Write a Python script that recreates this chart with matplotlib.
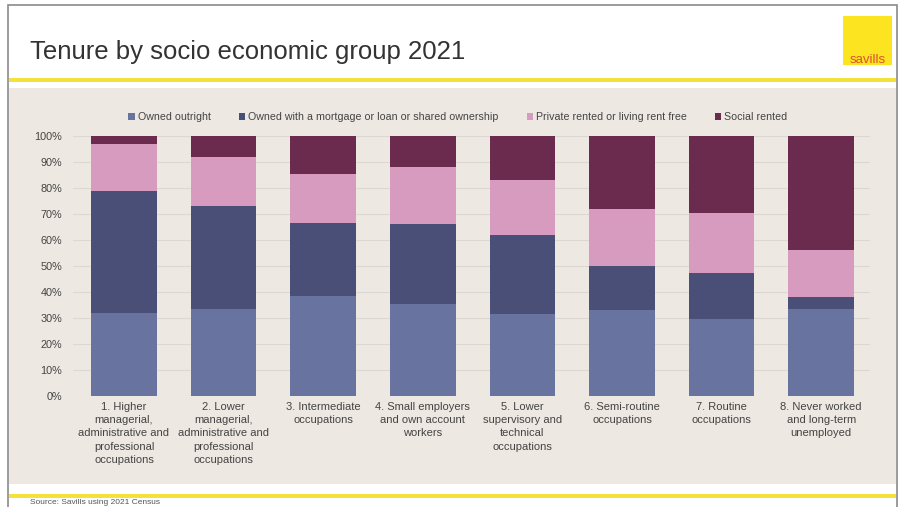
import numpy as np
import matplotlib.pyplot as plt
from matplotlib.patches import Rectangle

plt.rcParams['font.family'] = ['Liberation Sans', 'DejaVu Sans']

# Data (percent of each group)
groups = [
    "1. Higher\nmanagerial,\nadministrative and\nprofessional\noccupations",
    "2. Lower\nmanagerial,\nadministrative and\nprofessional\noccupations",
    "3. Intermediate\noccupations",
    "4. Small employers\nand own account\nworkers",
    "5. Lower\nsupervisory and\ntechnical\noccupations",
    "6. Semi-routine\noccupations",
    "7. Routine\noccupations",
    "8. Never worked\nand long-term\nunemployed",
]
owned_outright = [32, 33.5, 38.5, 35.5, 31.5, 33, 29.5, 33.5]
owned_mortgage = [47, 39.5, 28, 30.5, 30.5, 17, 18, 4.5]
private_rented = [18, 19, 19, 22, 21, 22, 23, 18]
social_rented = [3, 8, 14.5, 12, 17, 28, 29.5, 44]

series_names = ["Owned outright",
                "Owned with a mortgage or loan or shared ownership",
                "Private rented or living rent free",
                "Social rented"]
series_colors = ["#6973a0", "#4a4f78", "#d79bbf", "#6a2b4f"]

W, H = 904, 507
fig = plt.figure(figsize=(W / 100, H / 100), dpi=100)
fig.patch.set_facecolor("white")

def fx(px):
    return px / W

def fy(py):
    return 1 - py / H

# panel backgrounds
fig.patches.append(Rectangle((fx(9), fy(484)), fx(887), fy(88) - fy(484),
                             transform=fig.transFigure, facecolor="#ede8e2",
                             edgecolor="none", zorder=-3))
# yellow rules
fig.patches.append(Rectangle((fx(9), fy(82)), fx(887), 4 / H,
                             transform=fig.transFigure, facecolor="#f2e23a",
                             edgecolor="none", zorder=-2))
fig.patches.append(Rectangle((fx(9), fy(498)), fx(887), 4 / H,
                             transform=fig.transFigure, facecolor="#f2e23a",
                             edgecolor="none", zorder=-2))
# outer frame
fig.patches.append(Rectangle((fx(8), fy(510)), fx(889), fy(5) - fy(510),
                             transform=fig.transFigure, facecolor="none",
                             edgecolor="#8a8a8a", linewidth=1.2, zorder=-1))
# savills logo
fig.patches.append(Rectangle((fx(843), fy(65)), fx(49), fy(16) - fy(65),
                             transform=fig.transFigure, facecolor="#fde421",
                             edgecolor="none", zorder=-1))
fig.text(fx(867.5), fy(63), "savills", color="#d9542a", fontsize=9.5,
         ha="center", va="baseline")

fig.text(fx(30), fy(52), "Tenure by socio economic group 2021",
         fontsize=18.5, color="#333333", va="center", ha="left")
fig.text(fx(30), fy(503), "Source: Savills using 2021 Census",
         fontsize=6, color="#555555", va="center", ha="left")

# chart axes
ax = fig.add_axes([fx(73), fy(396), fx(870) - fx(73), fy(136) - fy(396)])
ax.set_zorder(5)
ax.set_facecolor("none")
x = np.arange(len(groups))
data = [owned_outright, owned_mortgage, private_rented, social_rented]
bottom = np.zeros(len(groups))
for vals, name, col in zip(data, series_names, series_colors):
    ax.bar(x, vals, width=0.66, bottom=bottom, color=col, label=name, zorder=3)
    bottom += np.array(vals)

ax.set_ylim(0, 100)
ax.set_xlim(-0.512, 7.49)
ax.set_yticks(np.arange(0, 101, 10))
ax.set_yticklabels([f"{v}%" for v in range(0, 101, 10)])
ax.set_xticks(x)
ax.set_xticklabels(groups, fontsize=8, color="#444444", linespacing=1.42)
ax.tick_params(axis="y", labelsize=7.8, labelcolor="#444444", length=0, pad=8)
ax.tick_params(axis="x", length=0, pad=4)
ax.grid(axis="y", color="#dcd7d0", linewidth=0.8, zorder=0)
for s in ax.spines.values():
    s.set_visible(False)

leg = ax.legend(loc="lower center", bbox_to_anchor=(0.483, 1.015), ncol=4,
                frameon=False, fontsize=7.7, handlelength=0.6, handleheight=0.6,
                handletextpad=0.3, columnspacing=2.6)
for t in leg.get_texts():
    t.set_color("#444444")

fig.savefig("out.png", dpi=100)
